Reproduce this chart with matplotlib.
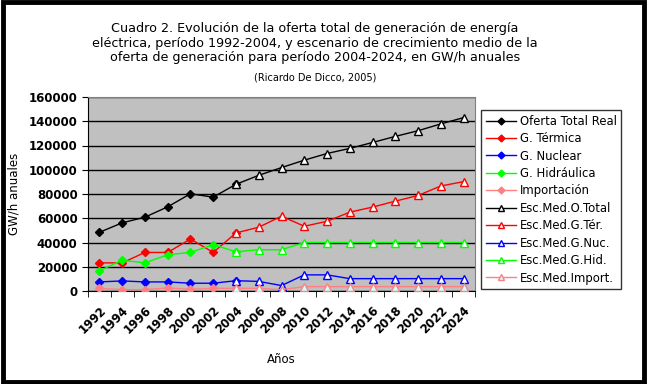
import matplotlib.pyplot as plt
from matplotlib.lines import Line2D
from matplotlib.patches import Rectangle

years = [str(y) for y in range(1992, 2025, 2)]

# real data 1992-2004
oferta_real = [48400, 56200, 60900, 69400, 80200, 77400, 88000]
termica = [23200, 23200, 31800, 31800, 42900, 31800, 47900]
nuclear = [7500, 8300, 7500, 7500, 6400, 6400, 8500]
hidraulica = [16600, 25400, 23200, 29900, 31800, 38200, 32400]
importacion = [2200, 1100, 1100, 2500, 1400, 2200, 2200]

# escenario medio 2004-2024
esc_total = [88000, 95400, 101800, 107900, 113400, 117600, 122500, 127500, 132200, 137800, 143000]
esc_termica = [47900, 52600, 61700, 53400, 57500, 65000, 69200, 74100, 78800, 86600, 90200]
esc_nuclear = [8500, 7900, 4500, 13300, 13300, 10200, 10200, 10200, 10200, 10200, 10200]
esc_hidraulica = [32400, 34000, 34000, 40000, 40000, 40000, 40000, 40000, 40000, 40000, 40000]
esc_import = [2200, 2200, 1100, 3600, 3600, 3600, 3600, 3600, 3600, 3600, 3600]

x_real = list(range(0, 7))
x_esc = list(range(6, 17))

fig = plt.figure(figsize=(6.48, 3.84), dpi=100)
fig.patches.append(Rectangle((0.004, 0.006), 0.99, 0.988, transform=fig.transFigure,
                             fill=False, lw=3.5, ec='black'))
ax = fig.add_axes([88/648, 1-291/384, 387/648, 194/384])
ax.set_facecolor('#C0C0C0')

real = [(oferta_real, 'black', 'Oferta Total Real'),
        (termica, '#FF0000', 'G. Térmica'),
        (nuclear, '#0000FF', 'G. Nuclear'),
        (hidraulica, '#00FF00', 'G. Hidráulica'),
        (importacion, '#FF8080', 'Importación')]
esc = [(esc_total, 'black', 'white', 'Esc.Med.O.Total'),
       (esc_termica, '#FF0000', 'white', 'Esc.Med.G.Tér.'),
       (esc_nuclear, '#0000FF', 'white', 'Esc.Med.G.Nuc.'),
       (esc_hidraulica, '#00FF00', 'white', 'Esc.Med.G.Hid.'),
       (esc_import, '#FF8080', '#CCFFFF', 'Esc.Med.Import.')]

handles = []
for vals, c, lab in real:
    ax.plot(x_real, vals, color=c, lw=1, marker='D', ms=4.5, mec=c, mfc=c, zorder=3)
    handles.append(Line2D([], [], color=c, lw=1, marker='D', ms=3.5, mec=c, mfc=c, label=lab))
for vals, c, fc, lab in esc:
    ax.plot(x_esc, vals, color=c, lw=1, marker='^', ms=6, mec=c, mfc=fc, mew=1, zorder=3)
    handles.append(Line2D([], [], color=c, lw=1, marker='^', ms=5, mec=c, mfc=fc, label=lab))

ax.set_ylim(0, 160000)
ax.set_xlim(-0.5, 16.5)
ax.set_yticks(range(0, 160001, 20000))
ax.yaxis.grid(True, color='black', lw=1)
ax.set_axisbelow(True)
ax.set_yticklabels([str(v) for v in range(0, 160001, 20000)], fontsize=8.5, fontweight='bold')
ax.set_xticks(range(17))
ax.set_xticklabels(years, rotation=45, ha='right', rotation_mode='anchor',
                   fontsize=8.5, fontweight='bold')
ax.tick_params(axis='x', length=0, pad=9)
ax.set_xticks([i - 0.5 for i in range(18)], minor=True)
ax.tick_params(axis='x', which='minor', length=4, direction='out')
ax.tick_params(axis='y', length=4, direction='out')
for s in ['top', 'right']:
    ax.spines[s].set_color('#808080')
ax.spines['left'].set_color('black')
ax.spines['bottom'].set_color('black')

ax.set_ylabel('GW/h anuales', fontsize=8.5, labelpad=6)
ax.set_xlabel('Años', fontsize=8.5, labelpad=12)

fig.text(315/648, 1-22/384, 'Cuadro 2. Evolución de la oferta total de generación de energía\n'
         'eléctrica, período 1992-2004, y escenario de crecimiento medio de la\n'
         'oferta de generación para período 2004-2024, en GW/h anuales',
         ha='center', va='top', fontsize=9.2, linespacing=1.15)
fig.text(315/648, 1-77/384, '(Ricardo De Dicco, 2005)', ha='center', va='center', fontsize=7)

leg = fig.legend(handles=handles, loc='upper left', bbox_to_anchor=(481/648, 1-110/384),
                 fontsize=8.4, frameon=True, fancybox=False, edgecolor='black',
                 handlelength=2.6, handletextpad=0.3, labelspacing=0.38,
                 borderpad=0.4, borderaxespad=0)
leg.get_frame().set_linewidth(1)

fig.savefig('out.png', dpi=100)
